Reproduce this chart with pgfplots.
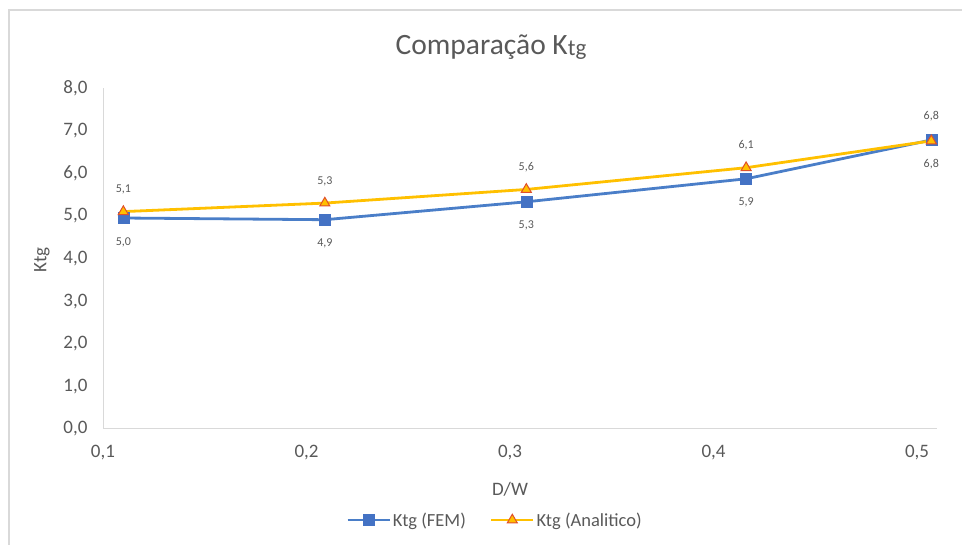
\documentclass[border=0pt]{standalone}
\usepackage{fontspec}
\setmainfont{Carlito}
\usepackage{pgfplots}
\usepackage{pgfplotstable}
\pgfplotsset{compat=1.18}
\pgfkeys{/pgf/number format/assume math mode=true}
\definecolor{txt}{HTML}{595959}
\definecolor{axln}{HTML}{D9D9D9}
\definecolor{femblue}{HTML}{4A7EC8}
\definecolor{femsq}{HTML}{4472C4}
\definecolor{anyel}{HTML}{FFC000}
\definecolor{anred}{HTML}{E0502A}
\pgfplotstableread{
x y
0.110 4.95
0.209 4.91
0.308 5.33
0.416 5.87
0.507 6.78
}\fem
\pgfplotstableread{
x y
0.110 5.10
0.209 5.30
0.308 5.62
0.416 6.13
0.507 6.76
}\ana
\begin{document}
\begin{tikzpicture}[x=1pt,y=1pt]
\path[use as bounding box] (0,0) rectangle (962,545);
\draw[axln,line width=1.2pt] (9,0) -- (9,535) -- (962,535);
\begin{axis}[
  at={(103pt,116pt)}, anchor=south west,
  scale only axis, width=834pt, height=341pt,
  xmin=0.1, xmax=0.5098, ymin=0, ymax=8,
  xtick={0.1,0.2,0.3,0.4,0.5}, ytick={0,1,...,8},
  axis x line*=bottom, axis y line*=left,
  axis line style={axln, line width=1pt},
  major tick length=0pt,
  x axis line style={-}, y axis line style={-},
  tick label style={font=\fontsize{19}{22}\selectfont, text=txt},
  xticklabel style={yshift=-13pt},
  yticklabel style={xshift=-12pt},
  /pgf/number format/.cd, use comma, fixed, fixed zerofill, precision=1,
  /pgfplots/.cd,
  legend style={at={(0.470,-0.267)}, anchor=center, draw=none, fill=none,
    legend columns=2, font=\fontsize{18.5}{21}\selectfont, text=txt,
    /tikz/every even column/.append style={column sep=22pt}},
  legend image code/.code={\draw[mark repeat=2,mark phase=2,#1] plot coordinates {(0pt,0pt) (21pt,0pt) (42pt,0pt)};},
  lab/.style={draw=none, no marks, forget plot, point meta=explicit,
    nodes near coords={\pgfmathprintnumber[fixed,fixed zerofill,precision=1,use comma]{\pgfplotspointmeta}},
    every node near coord/.append style={anchor=center, yshift=#1, font=\fontsize{12}{14}\selectfont, text=txt}},
]
\addplot[femblue, line width=2.8pt, mark=square*, mark size=5.5pt,
  mark options={fill=femsq, draw=femsq, line width=0.5pt}]
  table[x=x, y=y] {\fem};
\addlegendentry{Ktg (FEM)}
\addplot[anyel, line width=2.8pt, mark=triangle*, mark size=5.8pt,
  mark options={fill=anyel, draw=anred, line width=1pt}]
  table[x=x, y=y] {\ana};
\addlegendentry{Ktg (Analitico)}
\addplot[lab=-24pt, skip coords between index={4}{5}] table[x=x, y=y, meta=y] {\fem};
\addplot[lab=24pt, skip coords between index={0}{4}] table[x=x, y=y, meta=y] {\fem};
\addplot[lab=22pt, skip coords between index={4}{5}] table[x=x, y=y, meta=y] {\ana};
\addplot[lab=-23pt, skip coords between index={0}{4}] table[x=x, y=y, meta=y] {\ana};
\end{axis}
\node[text=txt, font=\fontsize{29.5}{33}\selectfont] at (491,498) {Comparação K{\fontsize{23}{25}\selectfont\raisebox{-1.5pt}{tg}}};
\node[text=txt, font=\fontsize{19}{22}\selectfont] at (510,56) {D/W};
\node[text=txt, font=\fontsize{19}{22}\selectfont, rotate=90] at (42,285) {Ktg};
\end{tikzpicture}
\end{document}
